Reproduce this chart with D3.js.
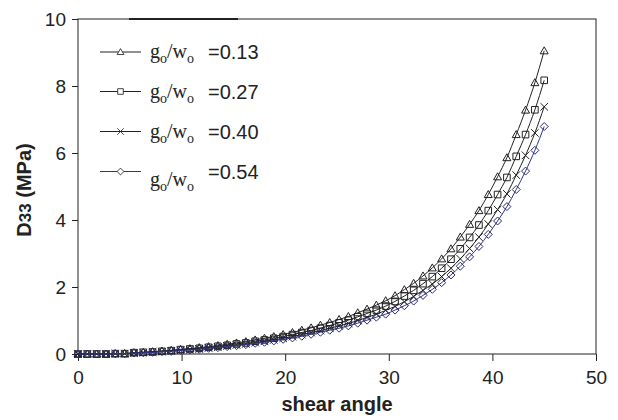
<!DOCTYPE html>
<html>
<head>
<meta charset="utf-8">
<script src="https://cdn.jsdelivr.net/npm/d3@7"></script>
<style>
  body { margin: 0; background: #fff; }
  text { font-family: "Liberation Sans", Arial, sans-serif; fill: #222; }
</style>
</head>
<body>
<svg id="chart" width="618" height="420"></svg>
<script>
// shear angle samples (deg)
const angles = [0, 0.9, 1.8, 2.7, 3.6, 4.5, 5.4, 6.3, 7.2, 8.1, 9, 9.9, 10.8, 11.7, 12.6, 13.5,
  14.4, 15.3, 16.2, 17.1, 18, 18.9, 19.8, 20.7, 21.6, 22.5, 23.4, 24.3, 25.2, 26.1, 27, 27.9,
  28.8, 29.7, 30.6, 31.5, 32.4, 33.3, 34.2, 35.1, 36, 36.9, 37.8, 38.7, 39.6, 40.5, 41.4,
  42.3, 43.2, 44.1, 45];

// D33 (MPa) per g0/w0 ratio
const d013 = [0, 0, 0, 0, 0.01, 0.01, 0.04, 0.05, 0.07, 0.09, 0.11, 0.14, 0.16, 0.19, 0.22,
  0.25, 0.29, 0.33, 0.37, 0.42, 0.47, 0.52, 0.58, 0.64, 0.71, 0.78, 0.86, 0.94, 1.03, 1.12,
  1.23, 1.34, 1.46, 1.59, 1.74, 1.92, 2.11, 2.33, 2.57, 2.84, 3.14, 3.49, 3.87, 4.28, 4.76,
  5.29, 5.86, 6.55, 7.28, 8.10, 9.05];
const d027 = [0, 0, 0, 0, 0.01, 0.01, 0.04, 0.05, 0.06, 0.08, 0.10, 0.13, 0.15, 0.17, 0.20,
  0.23, 0.26, 0.30, 0.33, 0.38, 0.42, 0.47, 0.52, 0.58, 0.64, 0.70, 0.77, 0.85, 0.93, 1.01,
  1.11, 1.21, 1.31, 1.43, 1.57, 1.73, 1.90, 2.10, 2.31, 2.56, 2.83, 3.14, 3.48, 3.85, 4.28,
  4.76, 5.27, 5.90, 6.55, 7.29, 8.17];
const d040 = [0, 0, 0, 0, 0.01, 0.01, 0.03, 0.04, 0.06, 0.07, 0.09, 0.11, 0.13, 0.15, 0.18,
  0.20, 0.24, 0.27, 0.30, 0.34, 0.38, 0.42, 0.47, 0.52, 0.58, 0.64, 0.70, 0.77, 0.84, 0.91,
  1.00, 1.09, 1.19, 1.30, 1.42, 1.56, 1.72, 1.90, 2.09, 2.31, 2.56, 2.84, 3.15, 3.49, 3.88,
  4.31, 4.78, 5.34, 5.93, 6.60, 7.38];
const d054 = [0, 0, 0, 0, 0.01, 0.01, 0.03, 0.04, 0.05, 0.07, 0.08, 0.11, 0.12, 0.14, 0.17,
  0.19, 0.22, 0.25, 0.28, 0.32, 0.35, 0.39, 0.44, 0.48, 0.53, 0.59, 0.65, 0.71, 0.77, 0.84,
  0.92, 1.01, 1.10, 1.19, 1.31, 1.44, 1.58, 1.75, 1.93, 2.13, 2.36, 2.62, 2.90, 3.21, 3.57,
  3.97, 4.40, 4.91, 5.46, 6.08, 6.79];

const ratioLabels = ['=0.13', '=0.27', '=0.40', '=0.54'];
const xTicks = [0, 10, 20, 30, 40, 50];
const yTicks = [0, 2, 4, 6, 8, 10];

const markerPaths = {
  triangle: 'M0,-4L4,3L-4,3Z',
  square: 'M-3.3,-3.3H3.3V3.3H-3.3Z',
  cross: 'M-3.8,-3.8L3.8,3.8M-3.8,3.8L3.8,-3.8',
  diamond: 'M0,-4L4,0L0,4L-4,0Z',
};

const series = [
  { values: d013, marker: 'triangle', line: '#222', label: ratioLabels[0] },
  { values: d027, marker: 'square', line: '#222', label: ratioLabels[1] },
  { values: d040, marker: 'cross', line: '#222', label: ratioLabels[2] },
  { values: d054, marker: 'diamond', line: '#33338f', label: ratioLabels[3] },
];

const svg = d3.select('#chart');
const x = d3.scaleLinear().domain([0, 50]).range([78, 596]);
const y = d3.scaleLinear().domain([0, 10]).range([354, 19]);

// frame
svg.append('rect')
  .attr('x', x(0)).attr('y', y(10))
  .attr('width', x(50) - x(0)).attr('height', y(0) - y(10))
  .attr('fill', 'none').attr('stroke', '#222').attr('stroke-width', 1);

// thick segment over the top border
svg.append('line')
  .attr('x1', 129).attr('x2', 238).attr('y1', y(10)).attr('y2', y(10))
  .attr('stroke', '#222').attr('stroke-width', 2.2);

const xAxis = svg.append('g')
  .attr('transform', `translate(0,${y(0)})`)
  .call(d3.axisBottom(x).tickValues(xTicks).tickSize(7).tickPadding(10));
const yAxis = svg.append('g')
  .attr('transform', `translate(${x(0)},0)`)
  .call(d3.axisLeft(y).tickValues(yTicks).tickSize(6).tickPadding(6));

[xAxis, yAxis].forEach(g => {
  g.select('.domain').remove();
  g.selectAll('.tick line').attr('stroke', '#222');
  g.selectAll('.tick text')
    .attr('fill', '#222')
    .style('font-size', '19px')
    .style('font-family', '"Liberation Sans", Arial, sans-serif');
});

svg.append('text')
  .attr('x', (x(0) + x(50)) / 2).attr('y', 411)
  .attr('text-anchor', 'middle')
  .style('font-size', '20px').style('font-weight', 'bold')
  .text('shear angle');

const yTitle = svg.append('text')
  .attr('transform', 'translate(31,190) rotate(-90)')
  .attr('text-anchor', 'middle')
  .style('font-size', '20px').style('font-weight', 'bold');
yTitle.append('tspan').text('D');
yTitle.append('tspan').style('font-size', '17px').text('33');
yTitle.append('tspan').text(' (MPa)');

const line = d3.line()
  .x((d, i) => x(angles[i]))
  .y(d => y(d))
  .curve(d3.curveMonotoneX);

series.forEach(s => {
  svg.append('path')
    .datum(s.values)
    .attr('d', line)
    .attr('fill', 'none')
    .attr('stroke', s.line)
    .attr('stroke-width', 1);

  svg.append('g').selectAll('path')
    .data(s.values)
    .join('path')
    .attr('transform', (d, i) => `translate(${x(angles[i])},${y(d)})`)
    .attr('d', markerPaths[s.marker])
    .attr('fill', 'none')
    .attr('stroke', s.marker === 'diamond' ? '#2a2a6a' : '#222')
    .attr('stroke-width', 1);
});

// legend
const legendRows = [52, 91.5, 131.5, 171.5];
series.forEach((s, i) => {
  const ry = legendRows[i];
  const g = svg.append('g');
  g.append('line')
    .attr('x1', 100).attr('x2', 141).attr('y1', ry).attr('y2', ry)
    .attr('stroke', s.line).attr('stroke-width', 1);
  g.append('path')
    .attr('transform', `translate(120.5,${ry}) scale(0.85)`)
    .attr('d', markerPaths[s.marker])
    .attr('fill', '#fff')
    .attr('stroke', '#222').attr('stroke-width', 1);

  const shift = i === 3 ? 8 : 0;
  const t = g.append('text')
    .attr('x', 150).attr('y', ry + 6 + shift)
    .style('font-family', '"Liberation Serif", "Times New Roman", serif')
    .style('font-size', '20px');
  t.append('tspan').text('g');
  t.append('tspan').attr('dy', 5).style('font-size', '14px').text('o');
  t.append('tspan').attr('dy', -5).text('/w');
  t.append('tspan').attr('dy', 5).style('font-size', '14px').text('o');

  g.append('text')
    .attr('x', 208).attr('y', ry + 7)
    .style('font-size', '20px')
    .text(s.label);
});
</script>
</body>
</html>
